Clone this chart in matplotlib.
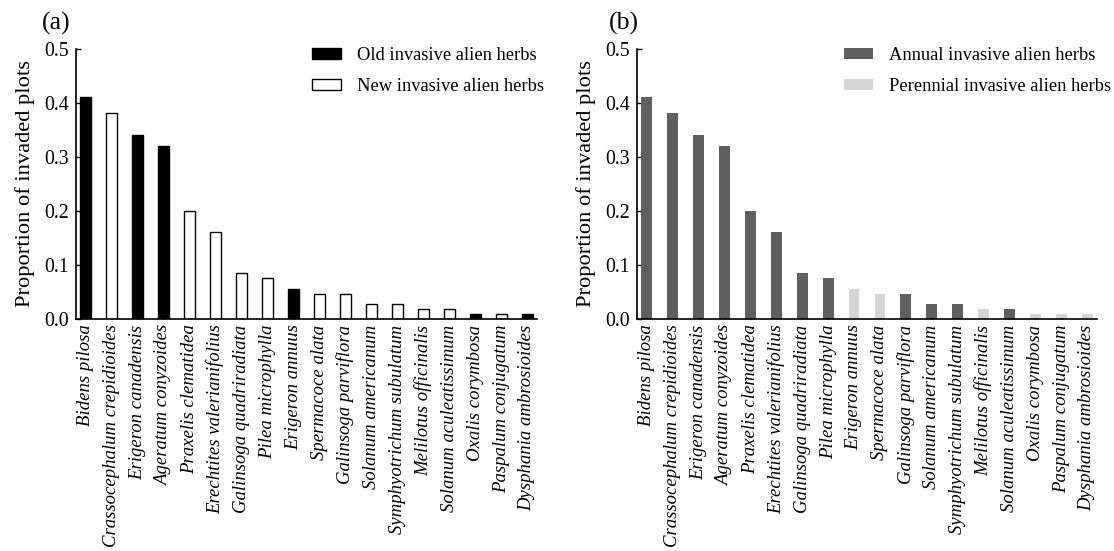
import matplotlib
matplotlib.use("Agg")
import matplotlib.pyplot as plt
from matplotlib.patches import Patch

species = ["Bidens pilosa", "Crassocephalum crepidioides", "Erigeron canadensis",
           "Ageratum conyzoides", "Praxelis clematidea", "Erechtites valerianifolius",
           "Galinsoga quadriradiata", "Pilea microphylla", "Erigeron annuus",
           "Spermacoce alata", "Galinsoga parviflora", "Solanum americanum",
           "Symphyotrichum subulatum", "Melilotus officinalis", "Solanum aculeatissimum",
           "Oxalis corymbosa", "Paspalum conjugatum", "Dysphania ambrosioides"]
proportion = [0.41, 0.38, 0.34, 0.32, 0.20, 0.16, 0.085, 0.075, 0.055,
              0.046, 0.046, 0.028, 0.028, 0.018, 0.018, 0.009, 0.009, 0.009]
# residence time: True = old invasive, False = new invasive
is_old = [True, False, True, True, False, False, False, False, True,
          False, False, False, False, False, False, True, False, True]
# life form: True = annual, False = perennial
is_annual = [True, True, True, True, True, True, True, True, False,
             False, True, True, True, False, True, False, False, False]
yticks = [0.0, 0.1, 0.2, 0.3, 0.4, 0.5]

plt.rcParams['font.family'] = ['Liberation Serif', 'DejaVu Serif']

W, H = 1114, 551
fig = plt.figure(figsize=(W / 100, H / 100), dpi=100)
ax1 = fig.add_axes([76 / W, 1 - 319 / H, 461 / W, 270.5 / H])
ax2 = fig.add_axes([637 / W, 1 - 319 / H, 460 / W, 270.5 / H])

x = list(range(len(species)))
w = 0.42
DARK = '#5f5f5f'
LIGHT = '#d4d4d4'

ax1.bar(x, proportion, width=w,
        color=['black' if o else 'white' for o in is_old],
        edgecolor='black', linewidth=1.0, zorder=2)
ax2.bar(x, proportion, width=w,
        color=[DARK if a else LIGHT for a in is_annual],
        edgecolor='none', zorder=2)

for ax in (ax1, ax2):
    ax.set_ylim(0, 0.5)
    ax.set_xlim(-0.38, len(species) - 0.62)
    ax.set_yticks(yticks)
    ax.set_yticklabels([f"{t:.1f}" for t in yticks], fontsize=14.3)
    ax.set_xticks(x)
    ax.set_xticklabels(species, rotation=90, fontstyle='italic', fontsize=13.5)
    ax.tick_params(axis='both', direction='in', length=3.5, width=1.0)
    ax.tick_params(axis='y', pad=5)
    ax.tick_params(axis='x', pad=4)
    for s in ('top', 'right'):
        ax.spines[s].set_visible(False)
    for s in ('left', 'bottom'):
        ax.spines[s].set_linewidth(1.2)
    ax.set_ylabel("Proportion of invaded plots", fontsize=16.2, labelpad=7)

leg_kw = dict(loc='upper left', bbox_transform=fig.transFigure, frameon=False,
              fontsize=13.3, handlelength=1.55, handleheight=0.55,
              labelspacing=0.75, handletextpad=0.9, borderpad=0, borderaxespad=0)
h1 = [Patch(facecolor='black', edgecolor='black'),
      Patch(facecolor='white', edgecolor='black')]
ax1.legend(h1, ["Old invasive alien herbs", "New invasive alien herbs"],
           bbox_to_anchor=(312 / W, 1 - 47 / H), **leg_kw)
h2 = [Patch(facecolor=DARK, edgecolor='none'),
      Patch(facecolor=LIGHT, edgecolor='none')]
ax2.legend(h2, ["Annual invasive alien herbs", "Perennial invasive alien herbs"],
           bbox_to_anchor=(844 / W, 1 - 47 / H), **leg_kw)

fig.text(42 / W, 1 - 12 / H, "(a)", fontsize=18.5, va='top')
fig.text(609 / W, 1 - 12 / H, "(b)", fontsize=18.5, va='top')

fig.savefig("out.png", dpi=100)
